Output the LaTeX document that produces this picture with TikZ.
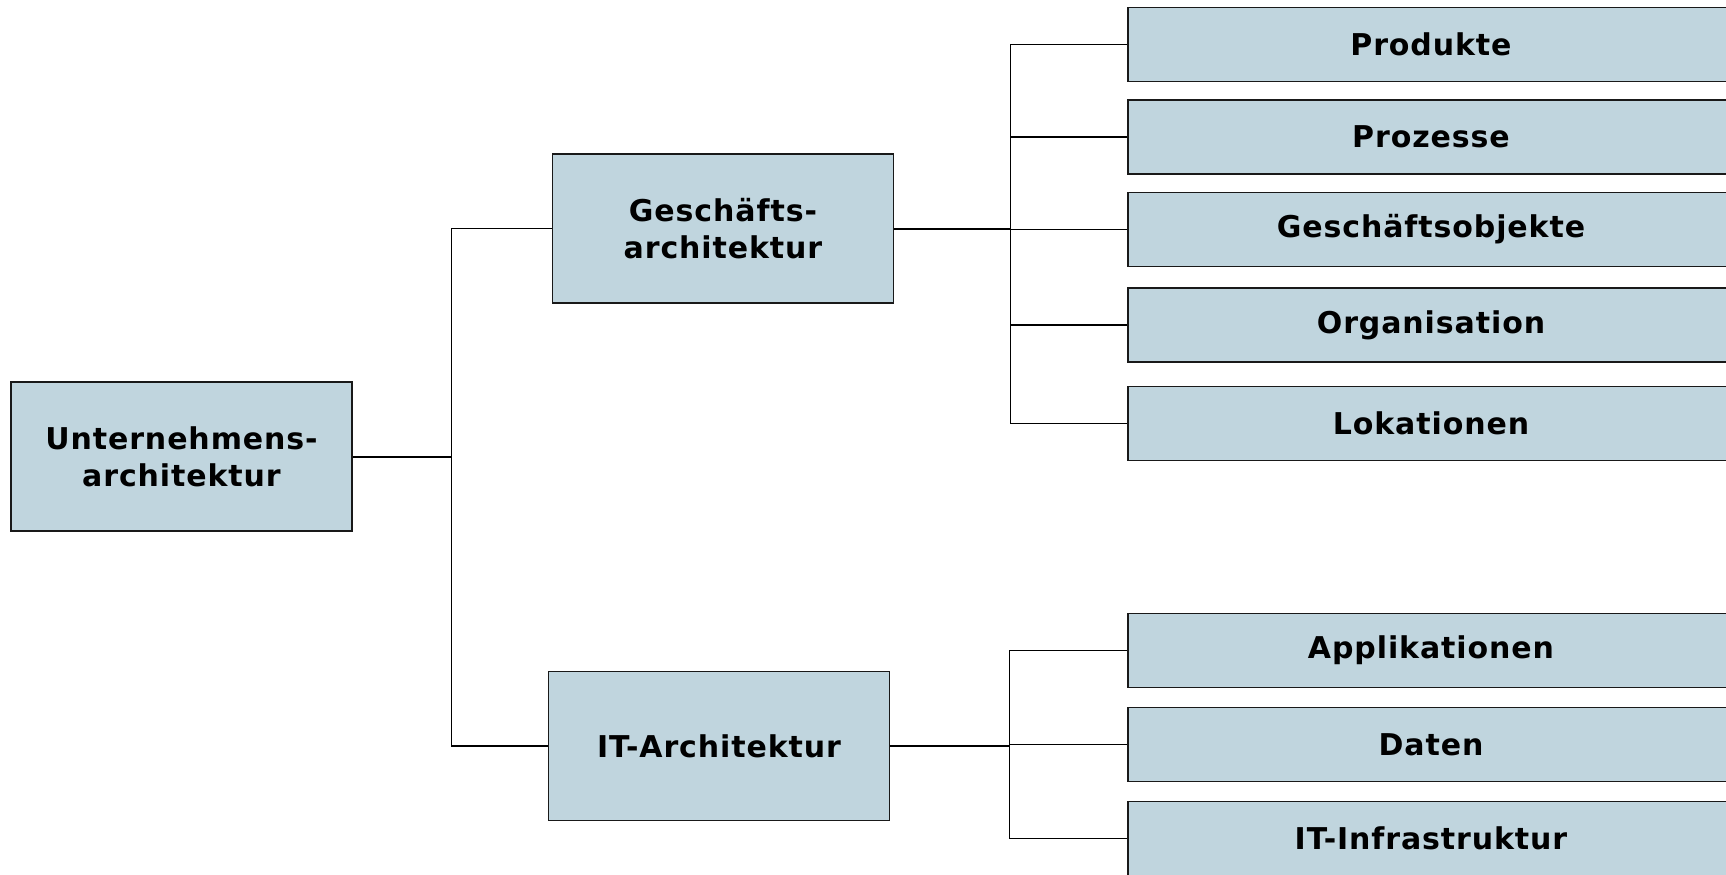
\documentclass[tikz,border=0pt]{standalone}
\usepackage{fontspec}
\setmainfont{DejaVu Sans}[LetterSpace=3]
\definecolor{boxfill}{RGB}{192,213,222}
\tikzset{
  box/.style={draw=black!90, fill=boxfill, line width=0.7pt, align=center,
    inner sep=0pt, font=\fontsize{15}{18.5}\selectfont\bfseries},
  bigbox/.style={box, minimum width=170.5pt, minimum height=74.5pt},
  leaf/.style={box, minimum width=303pt, minimum height=37pt},
  link/.style={line width=0.7pt},
  stub/.style={line width=1pt}
}
\begin{document}
\begin{tikzpicture}[x=0.5pt,y=-0.5pt]
\useasboundingbox (0,0) rectangle (1726,874);
\clip (0,0) rectangle (1726,874);
% main boxes
\node[bigbox] (ua) at (181.5,456.5) {Unternehmens-\\architektur};
\node[bigbox] (ga) at (723,228.5) {Geschäfts-\\architektur};
\node[bigbox] (ita) at (719,746) {IT-Architektur};
% leaves
\node[leaf] (prod) at (1431,44.5) {Produkte};
\node[leaf] (proz) at (1431,137) {Prozesse};
\node[leaf] (gobj) at (1431,229.5) {Geschäftsobjekte};
\node[leaf] (orga) at (1431,325) {Organisation};
\node[leaf] (loka) at (1431,423.5) {Lokationen};
\node[leaf] (appl) at (1431,650.5) {Applikationen};
\node[leaf] (dat) at (1431,744.5) {Daten};
\node[leaf] (infra) at (1431,838.5) {IT-Infrastruktur};
% connectors
\draw[stub] (ua.east) -- ++(99,0) coordinate (ufork);
\draw[link] (ufork) |- (ga.west);
\draw[link] (ufork) |- (ita.west);
\draw[stub] (ga.east) -- ++(116,0) coordinate (gfork);
\foreach \n in {prod,proz,gobj,orga,loka}
  \draw[link] (gfork) |- (\n.west);
\draw[stub] (ita.east) -- ++(119,0) coordinate (ifork);
\foreach \n in {appl,dat,infra}
  \draw[link] (ifork) |- (\n.west);
\end{tikzpicture}
\end{document}
